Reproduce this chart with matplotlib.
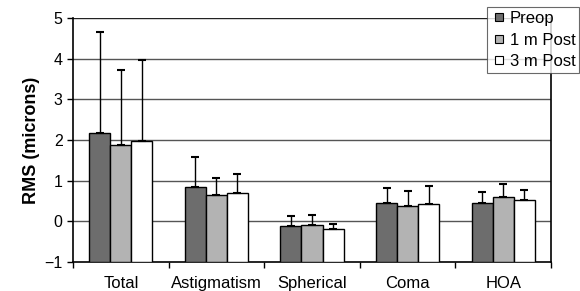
import matplotlib
matplotlib.use('Agg')
from matplotlib import pyplot as plt
from matplotlib.lines import Line2D
import numpy as np

plt.rcParams['font.family'] = ['Liberation Sans', 'DejaVu Sans']

# Datos
categorias = ['Total', 'Astigmatism', 'Spherical', 'Coma', 'HOA']
series = ['Preop', '1 m Post', '3 m Post']
preop = [2.17, 0.84, -0.12, 0.46, 0.46]
post_1m = [1.88, 0.65, -0.08, 0.38, 0.59]
post_3m = [1.98, 0.70, -0.19, 0.43, 0.53]
# extremo superior de la barra de error
preop_err_top = [4.65, 1.59, 0.13, 0.83, 0.72]
post_1m_err_top = [3.73, 1.07, 0.16, 0.75, 0.92]
post_3m_err_top = [3.97, 1.16, -0.06, 0.87, 0.77]

valores = [preop, post_1m, post_3m]
errores = [preop_err_top, post_1m_err_top, post_3m_err_top]
colores = ['#6d6d6d', '#b3b3b3', '#ffffff']

fig = plt.figure(figsize=(5.8, 2.91), dpi=100)
ax = fig.add_axes([0.1259, 0.0997, 0.8241, 0.8385])

base = -1
x = np.arange(len(categorias))
ancho = 0.22
for i, (vals, tops, col) in enumerate(zip(valores, errores, colores)):
    vals = np.array(vals)
    tops = np.array(tops)
    pos = x + (i - 1) * ancho
    ax.bar(pos, vals - base, ancho, bottom=base, color=col, edgecolor='black',
           linewidth=1.0, zorder=3, label=series[i])
    ax.errorbar(pos, vals, yerr=[np.zeros_like(vals), tops - vals], fmt='none',
                ecolor='black', elinewidth=1.0, capsize=3, capthick=1.5, zorder=4)

ax.set_xlim(-0.5, len(categorias) - 0.5)
ax.set_ylim(-1, 5)
ax.set_yticks(range(-1, 6))
ax.set_xticks(x)
ax.set_xticklabels(categorias, fontsize=12)
ax.set_xticks(np.arange(-0.5, len(categorias) + 0.5, 1), minor=True)
ax.tick_params(axis='x', which='major', length=0, pad=10)
ax.tick_params(axis='x', which='minor', length=4, direction='out', width=1)
ax.tick_params(axis='y', labelsize=11.5, length=4, direction='out', width=1)

for yv in range(0, 6):
    ax.axhline(yv, color='#555555' if yv < 5 else '#222222', linewidth=1.0, zorder=1)

ax.spines['top'].set_visible(False)
for s in ['left', 'bottom', 'right']:
    ax.spines[s].set_color('black')
    ax.spines[s].set_linewidth(1.2)

ax.set_ylabel('RMS (microns)', fontsize=13, fontweight='bold', labelpad=3)

handles = [Line2D([], [], linestyle='none', marker='s', markersize=5.5,
                  markerfacecolor=c, markeredgecolor='black', markeredgewidth=0.8)
           for c in colores]
leg = fig.legend(handles, series, loc='upper left', bbox_to_anchor=(487 / 580, 1 - 7 / 291),
                 fontsize=12, frameon=True, fancybox=False, edgecolor='#444444',
                 handlelength=0.9, handletextpad=0.2,
                 labelspacing=0.38, borderpad=0.25, borderaxespad=0)
leg.get_frame().set_linewidth(0.8)

fig.savefig('out.png', dpi=100)
